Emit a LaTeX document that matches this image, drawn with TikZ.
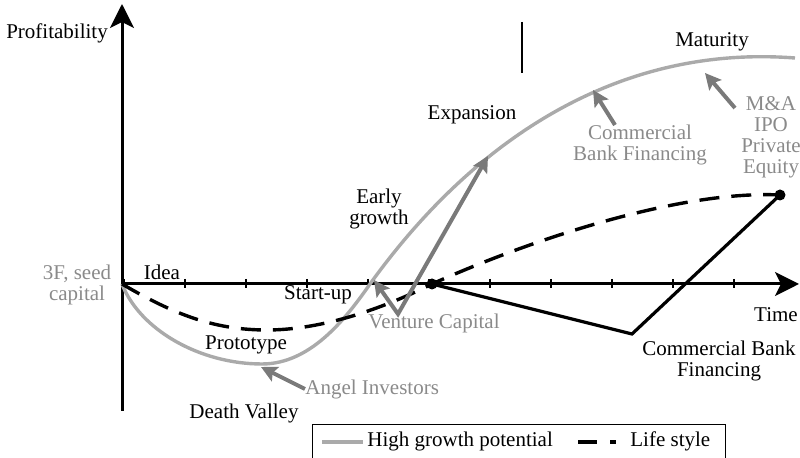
\documentclass[tikz,border=0pt]{standalone}
\usepackage{fontspec}
\setmainfont{Liberation Serif}
\usetikzlibrary{arrows.meta}

\definecolor{curvegray}{RGB}{170,170,170}
\definecolor{labelgray}{RGB}{138,138,138}
\definecolor{arrowgray}{RGB}{122,122,122}

\tikzset{
  stage/.style={inner sep=0pt, align=center, font=\fontsize{10.5}{10.5}\selectfont},
  fund/.style={stage, text=labelgray},
  fundarrow/.style={draw=arrowgray, line width=2pt, line join=miter,
    -{Stealth[length=8pt,width=8pt,inset=1.5pt]}},
  axis/.style={line width=1.5pt, -{Stealth[length=12pt,width=12pt,inset=3pt]}},
  highgrowth/.style={draw=curvegray, line width=1.7pt},
  lifestyle/.style={line width=1.7pt, dash pattern=on 10pt off 6pt},
  bankline/.style={line width=1.6pt, line join=miter},
  dot/.style={circle, fill, inner sep=0pt, minimum size=5.5pt}
}

\begin{document}
\begin{tikzpicture}[x=0.5pt,y=-0.5pt]
  \useasboundingbox (0,0) rectangle (800,458);
  \clip (0,0) rectangle (800,458);

  % axes
  \coordinate (origin) at (122,284);
  \coordinate (ytop) at (122,4);
  \coordinate (ybot) at (122,411);
  \coordinate (xend) at (799,284);
  \draw[axis] (ybot) -- (ytop);
  \draw[axis] (origin) -- (xend);
  \foreach \i in {0,...,10}
    \draw[line width=0.8pt] (124+61*\i,279) -- ++(0,9);
  \draw[line width=0.8pt] (522,22) -- (522,73);

  % curves
  \node[dot] (dotA) at (432,284) {};
  \node[dot] (dotB) at (780,195) {};
  \coordinate (bankdip) at (632,334);
  \draw[highgrowth] (origin) .. controls (140,330) and (200,364) .. (262,364)
    .. controls (310,364) and (345,320) .. (370,284)
    .. controls (420,215) and (560,40) .. (795,58);
  \draw[lifestyle] (origin) .. controls (175,315) and (215,330) .. (267,330)
    .. controls (320,330) and (380,310) .. (dotA.center)
    .. controls (530,240) and (680,190) .. (dotB.center);
  \draw[bankline] (dotA.center) -- (bankdip) -- (dotB.center);

  % stages
  \node[stage] (profit) at (57,33) {Profitability};
  \node[stage] (time) at (776,315) {Time};
  \node[stage] (idea) at (162,272) {Idea};
  \node[stage] (startup) at (318,295) {Start-up};
  \node[stage] (proto) at (246,345) {Prototype};
  \node[stage] (death) at (244,413) {Death Valley};
  \node[stage] (early) at (379,209) {Early\\growth};
  \node[stage] (expansion) at (472,115) {Expansion};
  \node[stage] (maturity) at (712,42) {Maturity};
  \node[stage] (cbank) at (719,361) {Commercial Bank\\Financing};

  % sources of funding
  \node[fund] (seed) at (77,285) {3F, seed\\capital};
  \node[fund, anchor=west] (angel) at (305,389) {Angel Investors};
  \node[fund, anchor=west] (venture) at (368,323) {Venture Capital};
  \node[fund] (cbgray) at (640,145) {Commercial\\Bank Financing};
  \node[fund] (exit) at (771,137) {M\&A\\IPO\\Private\\Equity};

  \coordinate (angeltip) at (261,367);
  \coordinate (vcfork) at (398,314);
  \coordinate (vccross) at (374,280);
  \coordinate (vcup) at (488,156);
  \coordinate (cbtail) at (615,125);
  \coordinate (cbtip) at (593,90);
  \coordinate (exittail) at (735,108);
  \coordinate (exittip) at (705,73);
  \draw[fundarrow] (angel.west) -- (angeltip);
  \draw[fundarrow, {Stealth[length=8pt,width=8pt,inset=1.5pt]}-{Stealth[length=8pt,width=8pt,inset=1.5pt]}]
    (vccross) -- (vcfork) -- (vcup);
  \draw[fundarrow] (cbtail) -- (cbtip);
  \draw[fundarrow] (exittail) -- (exittip);

  % legend
  \node[draw, line width=0.6pt, anchor=north west, minimum width=206.5pt,
    minimum height=22pt, inner sep=0pt] (legend) at (312,424) {};
  \draw[highgrowth] (322,442) -- (363,442);
  \node[stage, anchor=west] (leghigh) at (367,441) {High growth potential};
  \draw[line width=1.6pt, dash pattern=on 9.5pt off 6.5pt on 3pt off 10pt] (578,442) -- (616,442);
  \node[stage, anchor=west] (leglife) at (630,441) {Life style};
\end{tikzpicture}
\end{document}
